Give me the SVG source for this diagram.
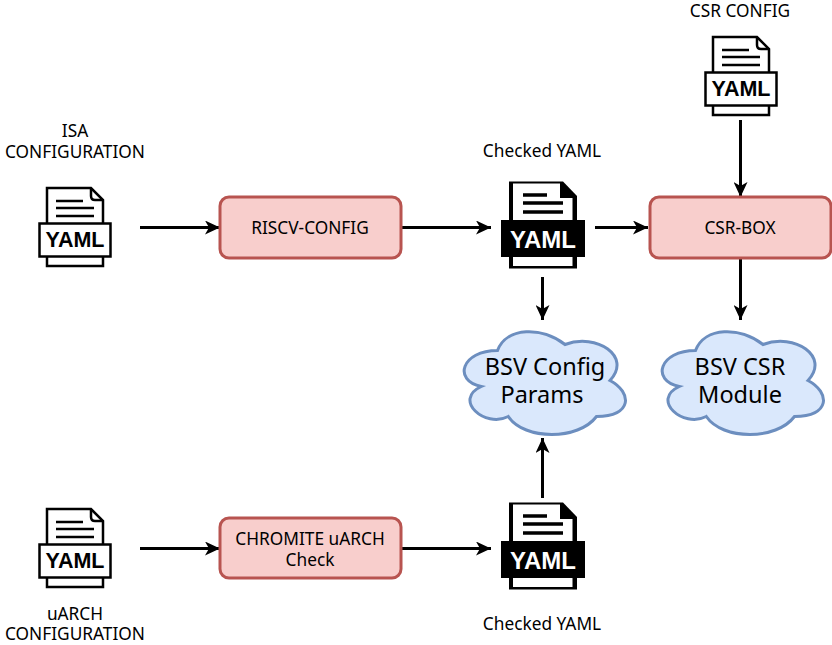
<svg xmlns="http://www.w3.org/2000/svg" width="832" height="645" viewBox="0 0 832 645">
<style>
text{font-family:"Noto Sans","Open Sans",sans-serif;fill:#000;text-anchor:middle}
.lbl{font-size:17.300px}
.big{font-size:23.500px}
.box{fill:#f8cecc;stroke:#b85450;stroke-width:3}
.cloud{fill:#dae8fc;stroke:#6c8ebf;stroke-width:3}
.yaml{font-family:"Liberation Sans",Arial,sans-serif;font-weight:700;font-size:21.500px}
.yk{font-family:"Liberation Sans",Arial,sans-serif;font-weight:700;font-size:24px;fill:#fff}
.c line{stroke:#000;stroke-width:3;marker-end:url(#a)}
.d{fill:#fff;stroke:#000;stroke-width:2.500}
.dl{stroke:#000;stroke-width:2.500;fill:none}
.kl{stroke:#000;stroke-width:3.500;fill:none}
</style>
<defs>
<marker id="a" markerUnits="userSpaceOnUse" markerWidth="16" markerHeight="14" refX="15" refY="7" orient="auto"><path d="M0 0L15 7L0 14L4 7Z" fill="#000"/></marker>
<g id="white">
<path class="d" d="M47 188H91L103 200V266H47Z"/>
<path class="dl" d="M91 188V196Q91 200 95 200H103M56 201H83M56 208H94M56 216H94"/>
<rect class="d" x="39.500" y="223.500" width="71" height="33"/>
</g>
<g id="black">
<path d="M509 181.500H563L577 196V268.500H509Z" fill="#000"/>
<path d="M513 183.500H560V198H572.500V266H513Z" fill="#fff"/>
<path class="kl" d="M523 195H547M523 203H563M523 212H563"/>
<rect x="501" y="220" width="84" height="37" fill="#000"/>
</g>
</defs>
<g id="connectors" class="c">
<line x1="140" y1="227.500" x2="220" y2="227.500"/>
<line x1="401" y1="227.500" x2="491" y2="227.500"/>
<line x1="595" y1="227.500" x2="648" y2="227.500"/>
<line x1="740.500" y1="120" x2="740.500" y2="197"/>
<line x1="740.500" y1="259" x2="740.500" y2="320"/>
<line x1="542.500" y1="277" x2="542.500" y2="320"/>
<line x1="542.500" y1="498" x2="542.500" y2="438"/>
<line x1="140" y1="548.500" x2="220" y2="548.500"/>
<line x1="401" y1="548.500" x2="491" y2="548.500"/>
</g>
<g id="isa-config">
<use href="#white"/>
<text class="yaml" x="75" y="247">YAML</text>
<text class="lbl" x="75" y="137">ISA</text>
<text class="lbl" x="75" y="158">CONFIGURATION</text>
</g>
<g id="csr-config">
<use href="#white" x="666" y="-151"/>
<text class="yaml" x="741" y="96">YAML</text>
<text class="lbl" x="740" y="17">CSR CONFIG</text>
</g>
<g id="uarch-config">
<use href="#white" y="321"/>
<text class="yaml" x="75" y="568">YAML</text>
<text class="lbl" x="75" y="620">uARCH</text>
<text class="lbl" x="75" y="640">CONFIGURATION</text>
</g>
<g id="checked-yaml-top">
<use href="#black"/>
<text class="yk" x="543" y="248">YAML</text>
<text class="lbl" x="542" y="157">Checked YAML</text>
</g>
<g id="checked-yaml-bottom">
<use href="#black" y="321"/>
<text class="yk" x="543" y="569">YAML</text>
<text class="lbl" x="542" y="630">Checked YAML</text>
</g>
<g id="riscv-config">
<rect class="box" x="220" y="197" width="181" height="61" rx="9"/>
<text class="lbl" x="310" y="234">RISCV-CONFIG</text>
</g>
<g id="csr-box">
<rect class="box" x="650" y="197" width="181" height="61" rx="9"/>
<text class="lbl" x="740" y="234">CSR-BOX</text>
</g>
<g id="chromite-check">
<rect class="box" x="220" y="518" width="181" height="60" rx="9"/>
<text class="lbl" x="310" y="545">CHROMITE uARCH</text>
<text class="lbl" x="310" y="566">Check</text>
</g>
<g id="bsv-config-params">
<path class="cloud" transform="translate(452.500 320.500)" d="M45 30C9 30 0 60 28.800 66C0 79.200 32.400 108 55.800 96C72 120 126 120 144 96C180 96 180 72 157.500 60C180 36 144 12 112.500 24C90 6 54 6 45 30Z"/>
<text class="big" x="545" y="375">BSV Config</text>
<text class="big" x="542" y="403">Params</text>
</g>
<g id="bsv-csr-module">
<path class="cloud" transform="translate(650.500 320.500)" d="M45 30C9 30 0 60 28.800 66C0 79.200 32.400 108 55.800 96C72 120 126 120 144 96C180 96 180 72 157.500 60C180 36 144 12 112.500 24C90 6 54 6 45 30Z"/>
<text class="big" x="740" y="375">BSV CSR</text>
<text class="big" x="740" y="403">Module</text>
</g>
</svg>
